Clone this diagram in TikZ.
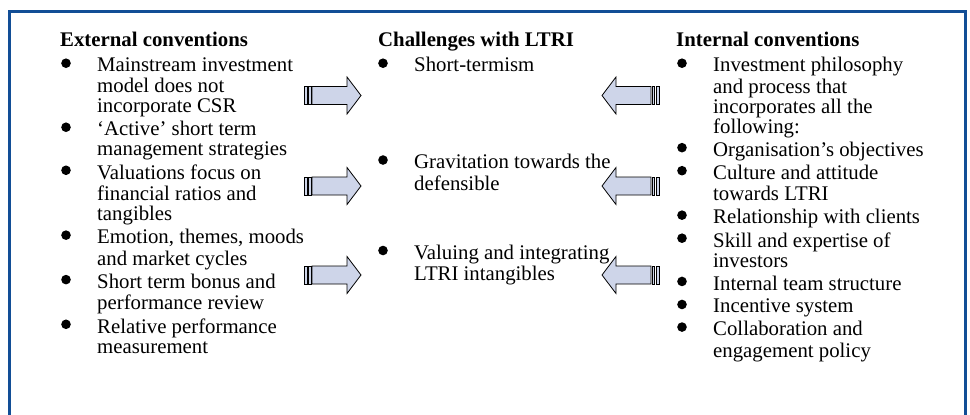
\documentclass[tikz,border=0pt]{standalone}
\usepackage{fontspec}
\setmainfont{Liberation Serif}
\usetikzlibrary{positioning, calc}

\definecolor{frameblue}{RGB}{18,78,150}
\definecolor{arrowfill}{RGB}{206,213,233}

\begin{document}
\begin{tikzpicture}[
  x=1pt, y=-1pt,
  node distance=2.2pt,
  font={\fontsize{20.8pt}{20pt}\selectfont},
  head/.style={font={\fontsize{20.8pt}{20pt}\selectfont\bfseries}, inner sep=0pt, anchor=base west, execute at begin node=\strut},
  item/.style={inner sep=0pt, text width=220pt, align=flush left, execute at begin node=\strut, execute at end node=\strut},
  frame/.style={draw=frameblue, line width=3pt},
  pics/barrow/.style={code={
    \filldraw[fill=arrowfill, line width=0.8pt] (0,-9) rectangle (3,9);
    \filldraw[fill=arrowfill, line width=0.8pt] (4.5,-9) rectangle (7,9);
    \filldraw[fill=arrowfill, line width=0.8pt, line join=miter]
      (8,-9) -- (43,-9) -- (43,-18.5) -- (57,0) -- (43,18.5) -- (43,9) -- (8,9) -- cycle;
  }}
]
\useasboundingbox (0,0) rectangle (970,415);
\draw[frame] (9,430) -- (9,11.5) -- (965,11.5) -- (965,430);

% external conventions
\node[head] (extHead) at (60,46) {External conventions};
\node[item, below=5pt of extHead.south west, anchor=north west, xshift=37pt] (ext1) {Mainstream investment\\model does not\\incorporate CSR};
\node[item, below=of ext1] (ext2) {`Active' short term\\management strategies};
\node[item, below=of ext2] (ext3) {Valuations focus on\\financial ratios and\\tangibles};
\node[item, below=of ext3] (ext4) {Emotion, themes, moods\\and market cycles};
\node[item, below=of ext4] (ext5) {Short term bonus and\\performance review};
\node[item, below=of ext5] (ext6) {Relative performance\\measurement};

% challenges
\node[head] (chalHead) at (378,46) {Challenges with LTRI};
\node[item, below=5pt of chalHead.south west, anchor=north west, xshift=36pt] (chal1) {Short-termism};
\node[item, below=76pt of chal1] (chal2) {Gravitation towards the\\defensible};
\node[item, below=48pt of chal2] (chal3) {Valuing and integrating\\LTRI intangibles};

% internal conventions
\node[head] (intHead) at (676,46) {Internal conventions};
\node[item, below=5pt of intHead.south west, anchor=north west, xshift=37pt] (int1) {Investment philosophy\\and process that\\incorporates all the\\following:};
\node[item, below=of int1] (int2) {Organisation's objectives};
\node[item, below=of int2] (int3) {Culture and attitude\\towards LTRI};
\node[item, below=of int3] (int4) {Relationship with clients};
\node[item, below=of int4] (int5) {Skill and expertise of\\investors};
\node[item, below=of int5] (int6) {Internal team structure};
\node[item, below=of int6] (int7) {Incentive system};
\node[item, below=of int7] (int8) {Collaboration and\\engagement policy};

% bullets
\foreach \n in {ext1,ext2,ext3,ext4,ext5,ext6,chal1,chal2,chal3,int1,int2,int3,int4,int5,int6,int7,int8}
  \fill ($(\n.north west)+(-31,6)$) circle (4.8pt);

% block arrows
\pic at (304,95.5) {barrow};
\pic at (304,186) {barrow};
\pic at (304,275) {barrow};
\pic[xscale=-1] at (659,95.5) {barrow};
\pic[xscale=-1] at (659,186) {barrow};
\pic[xscale=-1] at (659,275) {barrow};
\end{tikzpicture}
\end{document}
